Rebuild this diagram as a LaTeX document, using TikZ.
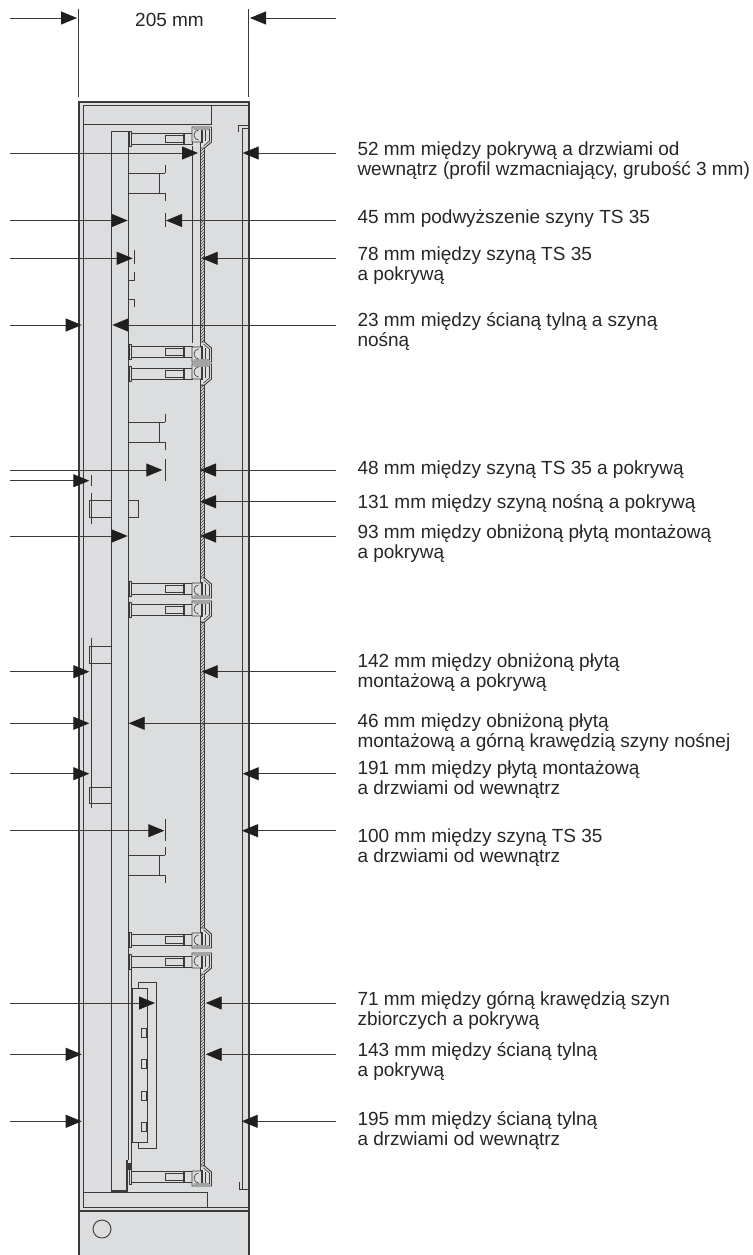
\documentclass[tikz,border=0pt]{standalone}
\usepackage{fontspec}
\setmainfont{Liberation Sans}
\usetikzlibrary{arrows.meta,patterns}
\definecolor{cabinetgray}{HTML}{DCDDDF}
\definecolor{linegray}{HTML}{3A3A3A}
\tikzset{
    part/.style={draw=linegray, line width=0.9pt},
    thinpart/.style={draw=linegray, line width=0.6pt},
    thickpart/.style={draw=linegray, line width=1.4pt},
    dimline/.style={draw=linegray, line width=0.9pt, -{Triangle[length=16pt,width=13pt,color=black!88]}},
    dimtext/.style={anchor=base west, align=left, inner sep=0pt, font=\fontsize{19}{19.8}\selectfont, text=black!85}
}
\begin{document}
\begin{tikzpicture}[x=1pt,y=-1pt]
    \useasboundingbox (0,0) rectangle (752,1255);
    % cabinet
    \fill [cabinetgray] (79,102) rectangle (249,1255);
    \draw [thickpart] (79,1255) -- (79,102) -- (249,102) -- (249,1255);
    \draw [part] (83,1207) -- (83,105) -- (248,105);
    \draw [part] (83,124) -- (211,124) -- (211,105);
    \draw [thickpart] (79,1211) -- (249,1211);
    \draw [part] (83,1207) -- (249,1207);
    \draw [part] (83,1192) -- (207,1192) -- (207,1207);
    \node [draw=linegray, line width=0.9pt, circle, minimum size=18pt, inner sep=0pt] (screwhole) at (102,1229) {};
    % door
    \draw [part] (242,1189) -- (242,128) -- (248,128);
    \draw [part] (238,132) -- (238,125) -- (248,125);
    \draw [part] (239,1182) -- (239,1189) -- (248,1189);
    % carrier rail
    \draw [part] (111,1191) -- (111,131) -- (128,131) -- (128,1160);
    \draw [thickpart] (111,1191) -- (128,1191);
    \fill [linegray] (126,1160) rectangle (128,1191);
    \fill [linegray] (128,1163) rectangle (132,1170);
    \draw [part] (128.5,968) -- (131.5,968) -- (131.5,1170);
    % cover
    \foreach \ya/\yb in {147/342,385/578,622/928,973/1166}
    {
        \draw [part, pattern=north east lines, pattern color=linegray] (200.5,\ya) rectangle (204.5,\yb);
    }
    \draw [part] (192,146) -- (192,343);
    % mounting bars
    \foreach \y in {133,346,368,583,604,934,956,1171}
    {
        \draw [part] (130.5,\y) rectangle (192,\y+11.5);
        \draw [part, fill=cabinetgray] (129,\y-1.5) rectangle (131,\y+13);
        \draw [part, fill=cabinetgray] (165,\y+2.5) rectangle (184,\y+9.5);
        \draw [thickpart] (184,\y) -- (184,\y+11.5);
    }
    \foreach \y in {133,368,604,956}
    {
        \draw [thickpart] (178,\y+11.5) -- (192,\y+11.5);
    }
    % clamps opening downwards
    \foreach \y in {127,364,601,953}
    {
        \draw [part, fill=cabinetgray] (192,\y) -- (211.5,\y) -- (211.5,\y+15) -- (204.5,\y+21) -- (200.5,\y+21) -- (200.5,\y+15) -- (192,\y+15) -- cycle;
        \draw [thinpart] (193.5,\y+2) -- (209.5,\y+2) -- (209.5,\y+14) -- (203.5,\y+19);
        \draw [thinpart] (198.5,\y+13) arc (90:270:4.5 and 5);
        \fill [linegray] (201,\y+3) rectangle (202.8,\y+16);
        \fill [linegray] (204.5,\y+3) rectangle (206.3,\y+14);
    }
    % clamps opening upwards
    \foreach \y in {342,578,928,1166}
    {
        \draw [part, fill=cabinetgray] (200.5,\y) -- (204.5,\y) -- (211.5,\y+6) -- (211.5,\y+20) -- (192,\y+20) -- (192,\y+5) -- (200.5,\y+5) -- cycle;
        \draw [thinpart] (193.5,\y+18) -- (209.5,\y+18) -- (209.5,\y+7) -- (203.5,\y+2);
        \draw [thinpart] (198.5,\y+17) arc (90:270:4.5 and 5);
        \fill [linegray] (201,\y+4) rectangle (202.8,\y+17);
        \fill [linegray] (204.5,\y+6) rectangle (206.3,\y+17);
    }
    % TS 35 rails
    \foreach \y in {173,422,855}
    {
        \draw [part] (128,\y) -- (165,\y);
        \draw [part] (128,\y+20) -- (165,\y+20);
        \draw [part] (159,\y) -- (159,\y+20);
        \draw [part] (165,\y-8) -- (165,\y);
        \draw [part] (165,\y+20) -- (165,\y+28);
    }
    \draw [part] (165,213) -- (165,227);
    \draw [part] (165,459) -- (165,481);
    \draw [part] (165,819) -- (165,841);
    % small rail
    \draw [part] (134,250) -- (134,264);
    \draw [part] (134,272) -- (134,280) -- (128,280);
    \draw [part] (128,299) -- (134,299) -- (134,307);
    % lowered mounting plate
    \draw [part] (91,475) -- (91,486);
    \draw [part] (91,493) -- (91,524);
    \draw [part] (89,500) rectangle (111,517);
    \draw [part] (128,500) rectangle (138,517);
    \draw [part] (91,638) -- (91,808);
    \draw [part] (89,646) rectangle (111,663);
    \draw [part] (89,787) rectangle (111,803);
    % busbars
    \draw [part] (138,1142) -- (138,1148) -- (156,1148) -- (156,982) -- (138,982) -- (138,988);
    \draw [part] (132,988) rectangle (147,1142);
    \foreach \y in {1028,1059,1091,1122}
    {
        \draw [part] (141.5,\y) rectangle (146.5,\y+9);
    }
    % width dimension
    \node [dimtext] (width) at (135,26.7) {205 mm};
    \draw [part] (78.7,9) -- (78.7,97);
    \draw [part] (248,9) -- (248,97);
    \coordinate (widthl) at (10,18);
    \coordinate (widthlend) at (77,18);
    \coordinate (widthr) at (336,18);
    \coordinate (widthrend) at (250,18);
    \draw [dimline] (widthl) -- (widthlend);
    \draw [dimline] (widthr) -- (widthrend);
    % left arrows: height/end x
    \foreach \y/\x [count=\i] in {153/198,220.5/127.7,258.3/132.7,470/162.3,480.7/89.3,536/127.7,671.7/89.3,723.3/89.3,773.7/89.3,830.7/164.3,1003/155}
    {
        \coordinate (la\i) at (10,\y);
        \coordinate (lb\i) at (\x,\y);
        \draw [dimline] (la\i) -- (lb\i);
    }
    \foreach \y [count=\i] in {325,1054.3,1121.3}
    {
        \coordinate (lc\i) at (10,\y);
        \coordinate (ld\i) at (81.7,\y);
        \draw [dimline] (lc\i) -- (ld\i);
    }
    % right arrows: height/end x
    \foreach \y/\x [count=\i] in {153/242.7,220.5/166,258.3/201.7,325/112.3,470/200,501.7/200,536/200,671.7/201.7,723.3/128.7,773.7/242.7,830.7/242,1003/205.7,1054.3/205.7,1121.3/241.7}
    {
        \coordinate (ra\i) at (336,\y);
        \coordinate (rb\i) at (\x,\y);
        \draw [dimline] (ra\i) -- (rb\i);
    }
    % labels
    \node [dimtext] (l1) at (357.3,175) {52 mm między pokrywą a drzwiami od\\wewnątrz (profil wzmacniający, grubość 3 mm)};
    \node [dimtext] (l2) at (357.3,223.3) {45 mm podwyższenie szyny TS 35};
    \node [dimtext] (l3) at (357.3,280.7) {78 mm między szyną TS 35\\a pokrywą};
    \node [dimtext] (l4) at (357.3,346.7) {23 mm między ścianą tylną a szyną\\nośną};
    \node [dimtext] (l5) at (357.3,474) {48 mm między szyną TS 35 a pokrywą};
    \node [dimtext] (l6) at (357.3,508.3) {131 mm między szyną nośną a pokrywą};
    \node [dimtext] (l7) at (357.3,558.3) {93 mm między obniżoną płytą montażową\\a pokrywą};
    \node [dimtext] (l8) at (357.3,687.3) {142 mm między obniżoną płytą\\montażową a pokrywą};
    \node [dimtext] (l9) at (357.3,747.3) {46 mm między obniżoną płytą\\montażową a górną krawędzią szyny nośnej};
    \node [dimtext] (l10) at (357.3,794.5) {191 mm między płytą montażową\\a drzwiami od wewnątrz};
    \node [dimtext] (l11) at (357.3,862.7) {100 mm między szyną TS 35\\a drzwiami od wewnątrz};
    \node [dimtext] (l12) at (357.3,1025) {71 mm między górną krawędzią szyn\\zbiorczych a pokrywą};
    \node [dimtext] (l13) at (357.3,1076) {143 mm między ścianą tylną\\a pokrywą};
    \node [dimtext] (l14) at (357.3,1145) {195 mm między ścianą tylną\\a drzwiami od wewnątrz};
\end{tikzpicture}
\end{document}
